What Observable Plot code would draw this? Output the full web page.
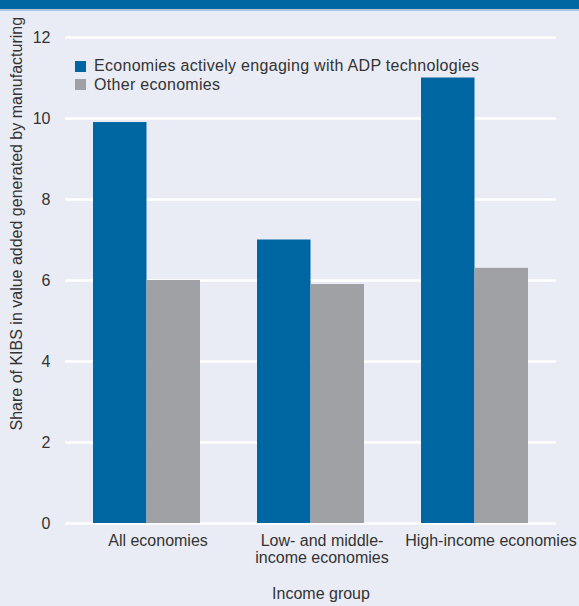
<!DOCTYPE html>
<html>
<head>
<meta charset="utf-8">
<script src="https://cdn.jsdelivr.net/npm/d3@7"></script>
<script src="https://cdn.jsdelivr.net/npm/@observablehq/plot@0.6"></script>
<style>
  html, body { margin: 0; padding: 0; }
  body {
    width: 579px; height: 606px; overflow: hidden; position: relative;
    background: #e9ecf4;
    font-family: "Liberation Sans", Arial, Helvetica, sans-serif;
    color: #333;
  }
  #strip {
    position: absolute; left: 0; top: 0; width: 579px; height: 9px;
    background: #0066a1; border-bottom: 2px solid #a9c6e0; z-index: 2;
  }
  #chart { position: absolute; left: 0; top: 0; }
  #legend { position: absolute; left: 75px; top: 57px; font-size: 16px; line-height: 18.5px; letter-spacing: 0.3px; }
  #legend .item { display: flex; align-items: center; white-space: nowrap; }
  #legend .sw { width: 11px; height: 11px; margin-right: 8px; flex: none; }
</style>
</head>
<body>
<div id="strip"></div>
<div id="chart"></div>
<div id="legend"></div>
<script>
// Income groups and their axis labels
const groups = ["All economies", "Low- and middle-income economies", "High-income economies"];
const tickLabels = ["All economies", "Low- and middle-\nincome economies", "High-income economies"];

// Share of KIBS in manufacturing value added (%)
const adpValues = [9.9, 7.0, 11.0];
const otherValues = [6.0, 5.9, 6.3];

const seriesNames = ["Economies actively engaging with ADP technologies", "Other economies"];
const seriesColors = ["#0066a1", "#a0a1a5"];
const yTicks = [0, 2, 4, 6, 8, 10, 12];

const yLabel = "Share of KIBS in value added generated by manufacturing";
const xLabel = "Income group";

const rows = groups.map((g, i) => ({group: g, label: tickLabels[i], adp: adpValues[i], other: otherValues[i]}));

const W = 579, H = 606;
const mL = 65, mR = 23, mT = 37, mB = 83;
const padIn = 0.3476, padOut = 0.1707;
const step = (W - mL - mR) / (groups.length - padIn + 2 * padOut);
const half = step * (1 - padIn) / 2;

const font = "16px";
const tickText = {x: "group", text: "label", frameAnchor: "bottom", lineAnchor: "top", dy: 10, lineHeight: 1.06, fontSize: font, fill: "#333"};

const plot = Plot.plot({
  width: W,
  height: H,
  marginLeft: mL,
  marginRight: mR,
  marginTop: mT,
  marginBottom: mB,
  style: {background: "transparent", fontFamily: "Liberation Sans, Arial, sans-serif", fontSize: font, color: "#333", overflow: "visible"},
  x: {domain: groups, paddingInner: padIn, paddingOuter: padOut, axis: null},
  y: {domain: [0, 12], axis: null},
  marks: [
    Plot.ruleY(yTicks, {stroke: "#ffffff", strokeWidth: 2.5}),
    Plot.axisY(yTicks, {tickSize: 0, tickPadding: 15, fontSize: font, fill: "#333", label: null}),
    Plot.barY(rows, {x: "group", y: "adp", fill: seriesColors[0], insetRight: half}),
    Plot.barY(rows, {x: "group", y: "other", fill: seriesColors[1], insetLeft: half}),
    Plot.text(rows, {...tickText, filter: (d, i) => i < 2, dx: 11}),
    Plot.text(rows, {...tickText, filter: (d, i) => i === 2, dx: 16}),
    Plot.text([xLabel], {text: d => d, frameAnchor: "bottom", dy: 75, dx: 10, fontSize: font, fill: "#333"}),
    Plot.text([yLabel], {text: d => d, frameAnchor: "bottom-left", rotate: -90, textAnchor: "start", dx: -44, dy: -93, fontSize: font, fill: "#333"})
  ]
});
document.getElementById("chart").appendChild(plot);

const legend = document.getElementById("legend");
seriesNames.forEach((name, i) => {
  const item = document.createElement("div");
  item.className = "item";
  const sw = document.createElement("span");
  sw.className = "sw";
  sw.style.background = seriesColors[i];
  const label = document.createElement("span");
  label.textContent = name;
  item.append(sw, label);
  legend.appendChild(item);
});
</script>
</body>
</html>
